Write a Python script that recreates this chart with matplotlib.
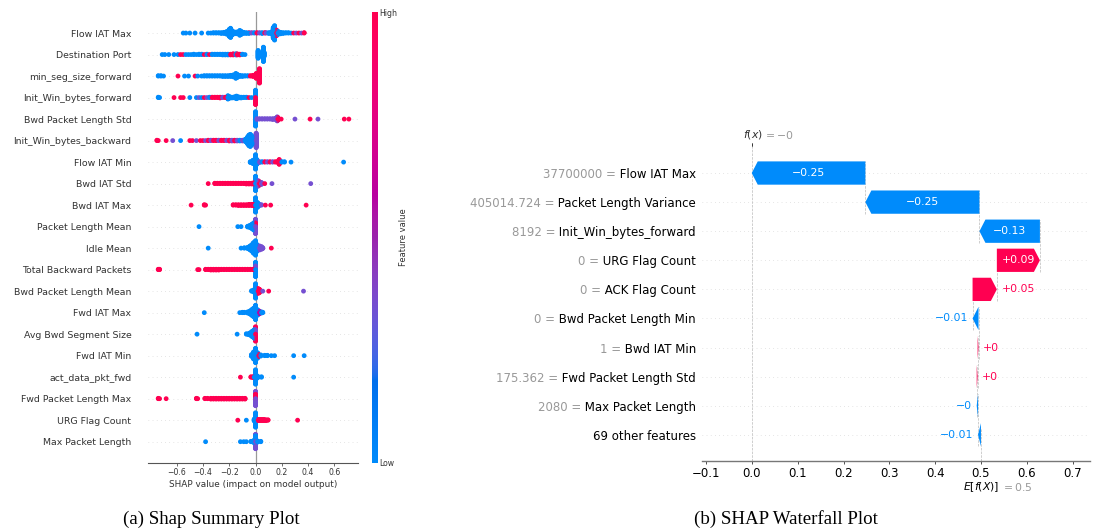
import numpy as np
import matplotlib
matplotlib.use("Agg")
import matplotlib.pyplot as plt
from matplotlib.colors import LinearSegmentedColormap
import matplotlib.transforms as mtransforms

# ---------------- data: SHAP summary (beeswarm) ----------------
# each entry: (shap value, normalised feature value 0=low..1=high, number of samples)
summary_features = [
    "Flow IAT Max", "Destination Port", "min_seg_size_forward", "Init_Win_bytes_forward",
    "Bwd Packet Length Std", "Init_Win_bytes_backward", "Flow IAT Min", "Bwd IAT Std",
    "Bwd IAT Max", "Packet Length Mean", "Idle Mean", "Total Backward Packets",
    "Bwd Packet Length Mean", "Fwd IAT Max", "Avg Bwd Segment Size", "Fwd IAT Min",
    "act_data_pkt_fwd", "Fwd Packet Length Max", "URG Flag Count", "Max Packet Length",
]

flow_iat_max = [
    (-0.55, 0, 1), (-0.53, 0, 1), (-0.50, 0, 1), (-0.46, 0, 1), (-0.41, 0, 1),
    (-0.36, 0, 1), (-0.34, 0, 1), (-0.32, 0, 2), (-0.30, 0, 2), (-0.28, 0, 2), (-0.26, 0, 3),
    (-0.24, 0, 4), (-0.22, 0, 8), (-0.20, 0, 20), (-0.19, 0, 26), (-0.18, 0, 14), (-0.16, 0, 6),
    (-0.14, 0, 6), (-0.12, 0, 14), (-0.11, 0, 10), (-0.09, 0, 4), (-0.07, 0, 3), (-0.05, 0, 2),
    (-0.05, 1, 1), (-0.03, 0.35, 2), (-0.01, 0, 2), (0.01, 1, 2), (0.03, 0.35, 2), (0.05, 0, 3),
    (0.07, 1, 2), (0.08, 0.35, 2), (0.10, 0, 3), (0.12, 0, 6), (0.135, 0, 30), (0.145, 0, 40),
    (0.16, 1, 16), (0.17, 0, 10), (0.19, 0, 5), (0.21, 0, 3), (0.23, 0, 2), (0.25, 0, 2),
    (0.27, 0, 1), (0.29, 1, 1), (0.31, 0.35, 1), (0.33, 1, 1), (0.35, 0.35, 1), (0.37, 1, 2),
]
destination_port = [
    (-0.71, 0, 1), (-0.69, 0, 1), (-0.66, 0, 1), (-0.62, 0, 1), (-0.59, 0, 1), (-0.57, 1, 1),
    (-0.55, 1, 1), (-0.53, 0, 1), (-0.51, 0, 1), (-0.49, 0, 1), (-0.47, 0, 2), (-0.45, 0, 1),
    (-0.43, 0, 2), (-0.41, 0, 2), (-0.39, 1, 1), (-0.37, 0, 2), (-0.35, 1, 1), (-0.33, 0, 2),
    (-0.31, 0, 2), (-0.29, 0, 2), (-0.27, 0, 2), (-0.25, 0, 3), (-0.23, 0, 3), (-0.21, 0, 3),
    (-0.19, 1, 3), (-0.17, 1, 4), (-0.15, 0, 4), (-0.14, 1, 4), (-0.12, 1, 3), (-0.10, 0, 2),
    (-0.08, 0, 1), (0.02, 0, 22), (0.03, 0, 8), (0.045, 0, 6), (0.06, 0, 40), (0.065, 0, 12),
]
min_seg_size_forward = [
    (-0.74, 0, 2), (-0.72, 0, 2), (-0.70, 0, 1), (-0.59, 1, 1), (-0.54, 0, 1), (-0.51, 0, 1),
    (-0.46, 1, 1), (-0.44, 0, 1), (-0.41, 0, 1), (-0.39, 0, 2), (-0.37, 0, 2), (-0.35, 0, 2),
    (-0.33, 0, 2), (-0.31, 0, 2), (-0.29, 0, 2), (-0.27, 0, 2), (-0.25, 0, 3), (-0.23, 0, 3),
    (-0.21, 0, 3), (-0.19, 0, 4), (-0.17, 0, 6), (-0.15, 0, 14), (-0.14, 0, 10), (-0.12, 0, 4),
    (-0.10, 0, 3), (-0.08, 0, 2), (-0.06, 0, 2), (-0.04, 1, 2), (-0.02, 1, 4), (0.005, 1, 14),
    (0.03, 1, 40),
]
init_win_bytes_forward = [
    (-0.74, 0, 2), (-0.73, 0, 1), (-0.62, 1, 1), (-0.57, 1, 1), (-0.55, 1, 1), (-0.50, 0, 1),
    (-0.45, 0, 1), (-0.43, 0.35, 1), (-0.41, 0, 1), (-0.39, 1, 1), (-0.37, 0.35, 1), (-0.35, 0, 2),
    (-0.33, 1, 2), (-0.31, 1, 2), (-0.29, 1, 2), (-0.27, 1, 3), (-0.25, 0.35, 2), (-0.23, 1, 2),
    (-0.21, 0, 10), (-0.20, 0, 6), (-0.18, 0, 3), (-0.16, 0, 4), (-0.145, 0, 8), (-0.13, 0, 4),
    (-0.11, 0, 3), (-0.09, 0, 2), (-0.07, 0, 2), (-0.05, 1, 1), (-0.03, 0, 1), (0.0, 1, 20),
    (0.0, 0, 20),
]
bwd_packet_length_std = [
    (0.0, 0, 40), (0.01, 0.35, 3), (0.03, 0.35, 2), (0.05, 0.35, 2), (0.07, 0.35, 2),
    (0.09, 0.35, 2), (0.11, 0.35, 2), (0.13, 0.35, 3), (0.15, 0.35, 4), (0.165, 0.35, 12),
    (0.17, 1, 8), (0.195, 1, 1), (0.30, 0.35, 1), (0.415, 1, 1), (0.475, 0.35, 1),
    (0.675, 1, 1), (0.71, 1, 1),
]
init_win_bytes_backward = [
    (-0.75, 1, 2), (-0.74, 1, 1), (-0.68, 1, 1), (-0.63, 0.35, 1), (-0.57, 0, 1), (-0.50, 1, 1),
    (-0.48, 1, 1), (-0.45, 0.35, 1), (-0.42, 1, 1), (-0.40, 1, 1), (-0.38, 0.35, 1), (-0.36, 1, 2),
    (-0.34, 0.35, 2), (-0.32, 1, 2), (-0.30, 1, 2), (-0.28, 0.35, 2), (-0.26, 1, 2), (-0.24, 1, 2),
    (-0.22, 0.35, 2), (-0.20, 1, 3), (-0.18, 0.35, 3), (-0.16, 1, 3), (-0.14, 0.35, 3),
    (-0.12, 0, 3), (-0.10, 0.35, 3), (-0.08, 0, 6), (-0.07, 0, 10), (-0.06, 0, 20), (-0.05, 0, 30),
    (-0.04, 0, 34), (-0.03, 0, 26), (-0.02, 0, 14), (0.005, 0.35, 40),
]
flow_iat_min = [
    (-0.04, 0, 3), (-0.02, 0, 10), (0.0, 0, 40), (0.01, 0, 14), (0.03, 0.35, 3), (0.05, 0, 2),
    (0.07, 1, 2), (0.09, 0.35, 2), (0.11, 1, 2), (0.13, 0.35, 2), (0.15, 1, 2), (0.17, 1, 4),
    (0.18, 1, 14), (0.20, 0, 2), (0.22, 0, 2), (0.27, 0, 1), (0.67, 0, 1),
]
bwd_iat_std = [
    (-0.36, 1, 1), (-0.31, 1, 2), (-0.29, 1, 2), (-0.27, 1, 2), (-0.25, 1, 2), (-0.23, 1, 2),
    (-0.21, 1, 2), (-0.19, 1, 2), (-0.17, 1, 2), (-0.15, 1, 2), (-0.13, 1, 2), (-0.11, 1, 2),
    (-0.09, 1, 2), (-0.07, 1, 3), (-0.05, 1, 3), (-0.03, 1, 3), (-0.015, 1, 4), (0.0, 0, 40),
    (0.02, 0.35, 16), (0.03, 1, 10), (0.045, 0.35, 6), (0.07, 1, 1), (0.125, 0.35, 1),
    (0.42, 0.35, 1),
]
bwd_iat_max = [
    (-0.49, 1, 1), (-0.39, 1, 2), (-0.38, 1, 1), (-0.17, 1, 2), (-0.15, 1, 2), (-0.13, 1, 3),
    (-0.11, 1, 3), (-0.09, 1, 3), (-0.07, 1, 3), (-0.05, 1, 4), (-0.03, 1, 4), (-0.015, 1, 4),
    (0.0, 0, 40), (0.015, 0, 14), (0.03, 0, 4), (0.045, 0.35, 2), (0.075, 1, 1), (0.115, 1, 1),
    (0.385, 1, 1),
]
packet_length_mean = [
    (-0.43, 0, 1), (-0.135, 0, 1), (-0.11, 0, 1), (-0.06, 0, 3), (-0.045, 0, 6), (-0.03, 0, 12),
    (-0.015, 0, 20), (0.0, 0.35, 30), (0.0, 1, 10),
]
idle_mean = [
    (-0.36, 0, 1), (-0.11, 0, 1), (-0.085, 0, 2), (-0.06, 0, 4), (-0.045, 0, 10), (-0.03, 0, 18),
    (-0.015, 0, 30), (0.0, 0, 40), (0.01, 0, 20), (0.03, 0.35, 12), (0.045, 0.35, 8),
    (0.055, 0.35, 3), (0.12, 1, 1),
]
total_backward_packets = [
    (-0.74, 1, 2), (-0.73, 1, 2), (-0.44, 1, 1), (-0.43, 1, 1), (-0.38, 1, 2), (-0.36, 1, 2),
    (-0.34, 1, 3), (-0.32, 1, 3), (-0.30, 1, 3), (-0.28, 1, 3), (-0.26, 1, 2), (-0.24, 1, 2),
    (-0.22, 1, 2), (-0.20, 1, 2), (-0.18, 1, 2), (-0.16, 1, 2), (-0.14, 1, 2), (-0.12, 1, 2),
    (-0.10, 1, 2), (-0.08, 1, 2), (-0.06, 1, 2), (-0.04, 1, 2), (-0.02, 1, 2), (0.0, 0, 30),
    (0.0, 0.35, 10),
]
bwd_packet_length_mean = [
    (-0.03, 0, 2), (-0.015, 0, 6), (0.0, 0, 40), (0.02, 1, 14), (0.03, 1, 10), (0.055, 0.35, 1),
    (0.10, 1, 1), (0.365, 0.35, 1),
]
fwd_iat_max = [
    (-0.39, 0, 1), (-0.12, 0, 1), (-0.10, 0, 2), (-0.085, 0, 2), (-0.06, 0, 4), (-0.045, 0, 8),
    (-0.03, 0, 16), (-0.015, 0, 24), (0.0, 0, 40), (0.015, 0, 16), (0.03, 0.6, 8), (0.045, 0, 4),
    (0.055, 0, 2),
]
avg_bwd_segment_size = [
    (-0.445, 0, 1), (-0.14, 0, 1), (-0.07, 0, 2), (-0.055, 0, 3), (-0.04, 0, 8), (-0.025, 0, 16),
    (-0.01, 0, 24), (0.0, 1, 28), (0.0, 0.35, 12),
]
fwd_iat_min = [
    (-0.03, 0, 6), (-0.015, 0, 20), (0.0, 0, 40), (0.015, 0, 16), (0.025, 1, 6), (0.04, 0, 4),
    (0.07, 0, 2), (0.09, 0, 2), (0.12, 0, 1), (0.145, 0, 1), (0.29, 0, 1), (0.37, 0, 1),
]
act_data_pkt_fwd = [
    (-0.115, 1, 1), (-0.035, 1, 2), (-0.02, 1, 3), (-0.01, 0, 4), (0.0, 0, 40), (0.015, 0, 6),
    (0.045, 0, 2), (0.29, 0, 1),
]
fwd_packet_length_max = [
    (-0.74, 1, 2), (-0.73, 1, 1), (-0.68, 1, 1), (-0.45, 1, 2), (-0.44, 1, 1), (-0.385, 1, 2),
    (-0.365, 1, 2), (-0.34, 1, 3), (-0.32, 1, 3), (-0.30, 1, 3), (-0.28, 1, 3), (-0.26, 1, 3),
    (-0.24, 1, 3), (-0.22, 1, 3), (-0.20, 1, 3), (-0.18, 1, 3), (-0.16, 1, 3), (-0.14, 1, 3),
    (-0.12, 1, 3), (-0.10, 1, 3), (-0.08, 1, 3), (0.0, 0.35, 28), (0.0, 1, 12),
]
urg_flag_count = [
    (-0.135, 1, 1), (-0.07, 0, 1), (-0.01, 0, 6), (0.0, 0, 40), (0.02, 1, 4), (0.035, 1, 4),
    (0.05, 1, 4), (0.065, 1, 4), (0.08, 1, 3), (0.095, 1, 2), (0.32, 1, 1),
]
max_packet_length = [
    (-0.38, 0, 1), (-0.115, 0, 1), (-0.09, 0, 1), (-0.07, 0, 1), (-0.035, 0, 2), (-0.015, 0, 6),
    (0.0, 0.35, 24), (0.0, 0, 16), (0.015, 0, 4), (0.04, 0, 2),
]
summary_data = [
    flow_iat_max, destination_port, min_seg_size_forward, init_win_bytes_forward,
    bwd_packet_length_std, init_win_bytes_backward, flow_iat_min, bwd_iat_std, bwd_iat_max,
    packet_length_mean, idle_mean, total_backward_packets, bwd_packet_length_mean, fwd_iat_max,
    avg_bwd_segment_size, fwd_iat_min, act_data_pkt_fwd, fwd_packet_length_max, urg_flag_count,
    max_packet_length,
]
summary_xticks = [-0.6, -0.4, -0.2, 0.0, 0.2, 0.4, 0.6]
summary_xticklabels = ["\u22120.6", "\u22120.4", "\u22120.2", "0.0", "0.2", "0.4", "0.6"]

# ---------------- data: SHAP waterfall ----------------
wf_features = ["Flow IAT Max", "Packet Length Variance", "Init_Win_bytes_forward",
               "URG Flag Count", "ACK Flag Count", "Bwd Packet Length Min", "Bwd IAT Min",
               "Fwd Packet Length Std", "Max Packet Length"]
wf_feature_values = ["37700000", "405014.724", "8192", "0", "0", "0", "1", "175.362", "2080"]
wf_shap = [-0.248, -0.249, -0.132, 0.094, 0.053, -0.013, 0.002, 0.002, -0.003]
wf_other_count = 69
wf_other_shap = -0.0063
wf_base_value = 0.5
wf_xticks = [-0.1, 0.0, 0.1, 0.2, 0.3, 0.4, 0.5, 0.6, 0.7]
wf_xticklabels = ["\u22120.1", "0.0", "0.1", "0.2", "0.3", "0.4", "0.5", "0.6", "0.7"]

# ---------------- colours (shap red_blue, LCH interpolation) ----------------
def lch2rgb(l, c, h):
    a, b = c * np.cos(h), c * np.sin(h)
    fy = (l + 16) / 116.0
    fx_ = fy + a / 500.0
    fz = fy - b / 200.0
    def finv(t):
        return t ** 3 if t ** 3 > 0.008856 else (t - 16 / 116.0) / 7.787
    X, Y, Z = 0.95047 * finv(fx_), 1.0 * finv(fy), 1.08883 * finv(fz)
    rgb = np.array([3.2406 * X - 1.5372 * Y - 0.4986 * Z,
                    -0.9689 * X + 1.8758 * Y + 0.0415 * Z,
                    0.0557 * X - 0.2040 * Y + 1.0570 * Z])
    rgb = np.where(rgb > 0.0031308, 1.055 * np.abs(rgb) ** (1 / 2.4) - 0.055, 12.92 * rgb)
    return np.clip(rgb, 0, 1)

blue_lch = [54.0, 70.0, 4.6588]
red_lch = [54.0, 90.0, 0.35470565 + 2 * np.pi]
l_mid = 40.0
blue_rgb = lch2rgb(*blue_lch)
red_rgb = lch2rgb(*red_lch)
nsteps = 100
l_vals = list(np.linspace(blue_lch[0], l_mid, nsteps // 2)) + list(np.linspace(l_mid, red_lch[0], nsteps // 2))
c_vals = np.linspace(blue_lch[1], red_lch[1], nsteps)
h_vals = np.linspace(blue_lch[2], red_lch[2], nsteps)
cm_colors = [lch2rgb(l, c, h) for l, c, h in zip(l_vals, c_vals, h_vals)]
red_blue = LinearSegmentedColormap.from_list("red_blue", cm_colors)

# ---------------- figure ----------------
plt.rcParams["font.family"] = "DejaVu Sans"
fig = plt.figure(figsize=(10.98, 5.32), dpi=100)

# ----- left: beeswarm -----
ax = fig.add_axes([0.1348, 0.1293, 0.1913, 0.849])
n = len(summary_features)
row_height = 0.4
for i, (name, data) in enumerate(zip(summary_features, summary_data)):
    pos = n - 1 - i
    ax.axhline(y=pos, color="#cccccc", lw=0.5, dashes=(1, 5), zorder=-1)
    xs, cs, ks = [], [], []
    for x, c, cnt in data:
        for k in range(cnt):
            xs.append(x); cs.append(c); ks.append(k)
    xs, cs, ks = np.array(xs), np.array(cs), np.array(ks)
    quant = np.round(100 * (xs - xs.min()) / (xs.max() - xs.min() + 1e-8))
    inds = np.lexsort((ks, quant))
    ys = np.zeros(len(xs))
    layer, last_bin = 0, -1
    for ind in inds:
        if quant[ind] != last_bin:
            layer = 0
        ys[ind] = np.ceil(layer / 2) * ((layer % 2) * 2 - 1)
        layer += 1
        last_bin = quant[ind]
    ys *= 0.9 * (row_height / np.max(ys + 1))
    order = np.argsort(-np.abs(ys), kind="stable")
    ax.scatter(xs[order], pos + ys[order], c=cs[order], cmap=red_blue, vmin=0, vmax=1,
               s=12, linewidths=0, alpha=1, zorder=3)

ax.axvline(0, color="#999999", lw=0.9, zorder=-1)
ax.set_xlim(-0.818, 0.78)
ax.set_ylim(-1, n)
ax.set_yticks(range(n))
ax.set_yticklabels(summary_features[::-1], fontsize=6.75)
ax.set_xticks(summary_xticks)
ax.set_xticklabels(summary_xticklabels)
ax.tick_params(axis="y", length=0, pad=12, colors="#333333")
ax.tick_params(axis="x", labelsize=5.6, length=2, width=0.5, pad=1.5, colors="#333333")
for s in ["left", "right", "top"]:
    ax.spines[s].set_visible(False)
ax.spines["bottom"].set_color("#555555")
ax.spines["bottom"].set_linewidth(0.8)
ax.set_xlabel("SHAP value (impact on model output)", fontsize=6.4, color="#333333", labelpad=2)

# colorbar
cax = fig.add_axes([0.3388, 0.1297, 0.0046, 0.8477])
grad = np.linspace(0, 1, 256).reshape(-1, 1)
cax.imshow(grad, aspect="auto", cmap=red_blue, origin="lower", extent=[0, 1, 0, 1])
cax.set_xticks([])
cax.yaxis.tick_right()
cax.set_yticks([0, 1])
cax.set_yticklabels(["Low", "High"], fontsize=5.6, color="#333333")
cax.tick_params(axis="y", length=0, pad=1.5)
for s in cax.spines.values():
    s.set_visible(False)
cax.yaxis.set_label_position("right")
cax.set_ylabel("Feature value", fontsize=6.0, color="#333333", labelpad=1)

# ----- right: waterfall -----
scale = 0.65
wx = fig.add_axes([0.6393, 0.1335, 0.3534, 0.5921])
nf = len(wf_features) + 1
xmin, xmax = -0.109, 0.738
wx.set_xlim(xmin, xmax)
wx.set_ylim(-0.9, 9.93)

def format_value(v, fmt):
    s = fmt % v
    s = s.rstrip("0").rstrip(".") if "." in s else s
    if s.startswith("-"):
        s = "\u2212" + s[1:]
    return s

fx = wf_base_value + sum(wf_shap) + wf_other_shap
loc = fx
rng = list(range(nf - 1, 0, -1))
arrows = []
name_labels = ["" for _ in range(nf)]
value_labels = ["" for _ in range(nf)]
for i, (name, val, sv) in enumerate(zip(wf_features, wf_feature_values, wf_shap)):
    loc -= sv
    arrows.append((rng[i], loc, sv))
    wx.plot([loc, loc], [rng[i] - 1 - 0.4, rng[i] + 0.4], color="#bbbbbb", linestyle="--",
            linewidth=0.5, zorder=-1)
    name_labels[rng[i]] = " " + name
    value_labels[rng[i]] = val + " ="
name_labels[0] = "%d other features" % wf_other_count
arrows.append((0, wf_base_value + wf_other_shap if wf_other_shap > 0 else wf_base_value, wf_other_shap))

bar_width = 0.8
fig.canvas.draw()
renderer = fig.canvas.get_renderer()
bbox = wx.get_window_extent().transformed(fig.dpi_scale_trans.inverted())
bbox_to_xscale = (xmax - xmin) / bbox.width
hl_scaled = bbox_to_xscale * 0.06
txt_off = (5 / 72.0) * scale * bbox_to_xscale
for y, start, sv in arrows:
    col = red_rgb if sv >= 0 else blue_rgb
    dist = sv
    if sv >= 0:
        arr = wx.arrow(start, y, max(dist - hl_scaled, 1e-6), 0, head_length=min(dist, hl_scaled),
                       color=col, width=bar_width, head_width=bar_width, linewidth=0)
    else:
        arr = wx.arrow(start, y, -max(-dist - hl_scaled, 1e-6), 0, head_length=min(-dist, hl_scaled),
                       color=col, width=bar_width, head_width=bar_width, linewidth=0)
    label = format_value(sv, "%+0.02f")
    t = wx.text(start + 0.5 * dist, y, label, ha="center", va="center", color="white",
                fontsize=12 * scale)
    tb = t.get_window_extent(renderer=renderer)
    ab = arr.get_window_extent(renderer=renderer)
    if tb.width > ab.width:
        t.remove()
        if sv >= 0:
            wx.text(start + txt_off + dist, y, label, ha="left", va="center", color=col,
                    fontsize=12 * scale)
        else:
            wx.text(start - txt_off + dist, y, label, ha="right", va="center", color=col,
                    fontsize=12 * scale)

wx.set_yticks(range(nf))
wx.set_yticklabels(name_labels, fontsize=13 * scale, color="black")
for i in range(nf):
    wx.axhline(i, color="#cccccc", lw=0.5, dashes=(1, 5), zorder=-1)
wx.axvline(wf_base_value, 0, 1 / nf, color="#bbbbbb", linestyle="--", linewidth=0.5, zorder=-1)
wx.axvline(fx, 0, 1, color="#bbbbbb", linestyle="--", linewidth=0.5, zorder=-1)
wx.set_xticks(wf_xticks)
wx.set_xticklabels(wf_xticklabels)
wx.tick_params(axis="x", labelsize=13 * scale, length=2.3, width=0.6, pad=2.3, colors="#333333")
wx.tick_params(axis="x", labelcolor="black")
wx.tick_params(axis="y", length=0, pad=4.3)
for s in ["left", "right", "top"]:
    wx.spines[s].set_visible(False)
wx.spines["bottom"].set_color("#777777")
wx.spines["bottom"].set_linewidth(1.0)

# gray feature values, placed just left of the black feature names
fig.canvas.draw()
blend = mtransforms.blended_transform_factory(wx.transAxes, wx.transData)
for i, tl in enumerate(wx.yaxis.get_majorticklabels()):
    if value_labels[i]:
        bb = tl.get_window_extent(renderer=renderer)
        x_ax = wx.transAxes.inverted().transform((bb.x0, 0))[0]
        wx.text(x_ax, i, value_labels[i], transform=blend, ha="right", va="center_baseline",
                fontsize=13 * scale, color="#999999", clip_on=False)

# E[f(X)] label
ax2 = wx.twiny()
ax2.set_xlim(xmin, xmax)
ax2.xaxis.set_ticks_position("bottom")
ax2.xaxis.set_label_position("bottom")
ax2.set_xticks([wf_base_value, wf_base_value + 1e-8])
ax2.set_xticklabels(["$E[f(X)]$", "$ = " + format_value(wf_base_value, "%0.03f") + "$"],
                    fontsize=12 * scale, ha="left")
ax2.tick_params(axis="x", length=0, pad=14)
for s in ax2.spines.values():
    s.set_visible(False)
tls = ax2.xaxis.get_majorticklabels()
tls[0].set_transform(tls[0].get_transform() + mtransforms.ScaledTranslation(-20 * scale / 72., 0, fig.dpi_scale_trans))
tls[1].set_transform(tls[1].get_transform() + mtransforms.ScaledTranslation(22 * scale / 72., -1 * scale / 72., fig.dpi_scale_trans))
tls[1].set_color("#999999")

# f(x) label
ax3 = wx.twiny()
ax3.set_xlim(xmin, xmax)
ax3.set_xticks([fx, fx + 1e-8])
ax3.set_xticklabels(["$f(x)$", "$ = " + format_value(fx, "%0.03f") + "$"], fontsize=12 * scale, ha="left")
ax3.tick_params(axis="x", length=2.3, width=0.6, pad=1.2, colors="#333333")
tls = ax3.xaxis.get_majorticklabels()
tls[0].set_transform(tls[0].get_transform() + mtransforms.ScaledTranslation(-10 * scale / 72., 0, fig.dpi_scale_trans))
tls[1].set_transform(tls[1].get_transform() + mtransforms.ScaledTranslation(12 * scale / 72., 0, fig.dpi_scale_trans))
tls[1].set_color("#999999")
for s in ax3.spines.values():
    s.set_visible(False)

# captions
fig.text(211 / 1098, 1 - 519 / 532, "(a) Shap Summary Plot", family="Liberation Serif",
         fontsize=13.6, ha="center", va="center")
fig.text(786 / 1098, 1 - 519 / 532, "(b) SHAP Waterfall Plot", family="Liberation Serif",
         fontsize=13.6, ha="center", va="center")

fig.savefig("out.png", dpi=100)
